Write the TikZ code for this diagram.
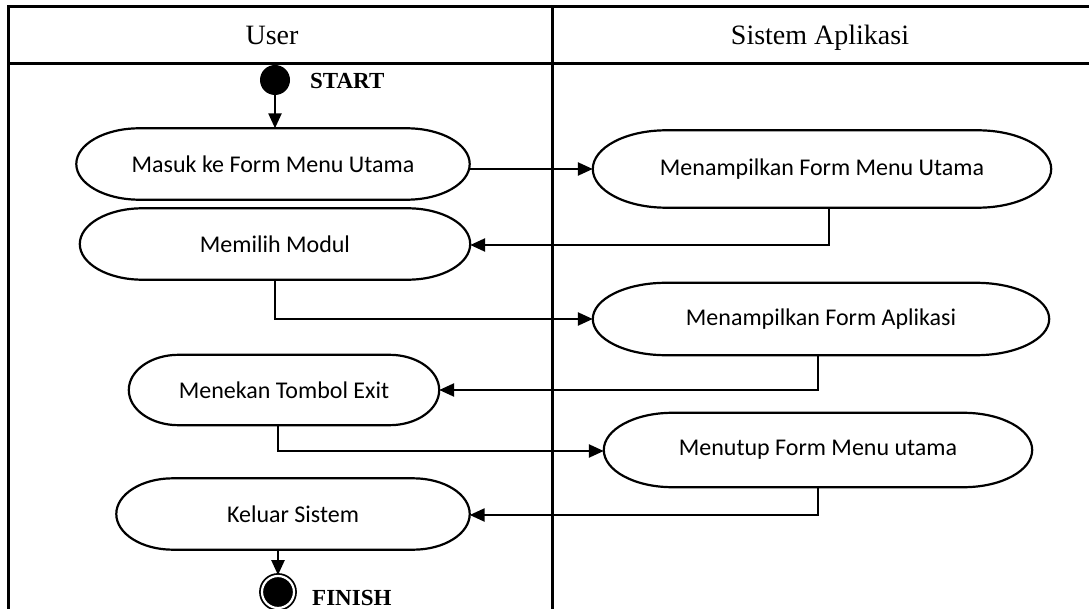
\documentclass[tikz,border=0pt]{standalone}
\usepackage{fontspec}
\setmainfont{Liberation Serif}
\newfontfamily\calibri{Carlito}
\usetikzlibrary{calc, arrows.meta}

\tikzset{
  act/.style={minimum height=71, inner sep=0, font=\calibri\fontsize{24}{28}\selectfont},
  flow/.style={line width=2.4, -{Triangle[length=15,width=13]}},
  lane/.style={line width=3},
  lanehead/.style={anchor=base, font=\fontsize{28}{32}\selectfont},
}

\begin{document}
\begin{tikzpicture}[x=1pt, y=1pt]
  \useasboundingbox (0,0) rectangle (1089,-609);

  % swimlanes
  \draw[lane] (1100,-7) -- (8,-7) -- (8,-620);
  \draw[lane] (8,-64) -- (1100,-64);
  \draw[lane] (552,-7) -- (552,-620);
  \node[lanehead] (user) at (272,-45) {User};
  \node[lanehead] (sistem) at (820,-45) {Sistem Aplikasi};

  % start / finish
  \node[circle, fill, minimum size=30, inner sep=0] (start) at (275,-80) {};
  \node[right, inner sep=0] (startlbl) at (310,-81) {\fontsize{23}{26}\selectfont\bfseries START};
  \node[circle, fill, draw, double=white, double distance=2.2, line width=1.8,
        minimum size=32, inner sep=0] (finish) at (278,-592) {};
  \node[right, inner sep=0] (finishlbl) at (312,-598) {\fontsize{23}{26}\selectfont\bfseries FINISH};

  % activities
  \node[act, minimum width=393] (masuk) at (273,-164) {Masuk ke Form Menu Utama};
  \node[act, minimum width=458, minimum height=77] (tampilmenu) at (822,-169) {Menampilkan Form Menu Utama};
  \node[act, minimum width=390] (pilih) at (275,-244) {Memilih Modul};
  \node[act, minimum width=456, minimum height=72] (tampilapp) at (821,-319) {Menampilkan Form Aplikasi};
  \node[act, minimum width=310, minimum height=70] (tekan) at (284,-390) {Menekan Tombol Exit};
  \node[act, minimum width=428, minimum height=74] (tutup) at (818,-450) {Menutup Form Menu utama};
  \node[act, minimum width=353] (keluar) at (293,-514) {Keluar Sistem};

  % terminator outlines
  \foreach \a in {masuk,tampilmenu,pilih,tampilapp,tekan,tutup,keluar}
    \draw[line width=2.2] let \p1=(\a.north west), \p2=(\a.south east),
        \n1={0.16*(\x2-\x1)}, \n2={(\y1-\y2)/2} in
      (\x1+\n1,\y1) -- (\x2-\n1,\y1)
      arc[start angle=90, end angle=-90, x radius=\n1, y radius=\n2]
      -- (\x1+\n1,\y2)
      arc[start angle=270, end angle=90, x radius=\n1, y radius=\n2] -- cycle;

  % flows
  \draw[flow] (start) -- (masuk.north -| start);
  \draw[flow] (masuk.east |- tampilmenu.west) -- (tampilmenu.west);
  \draw[flow] ([xshift=7]tampilmenu.south) |- ([yshift=-1]pilih.east);
  \draw[flow] (pilih.south) |- (tampilapp.west);
  \draw[flow] ([xshift=-3]tampilapp.south) |- (tekan.east);
  \draw[flow] ([xshift=-6]tekan.south) |- ([yshift=-1]tutup.west);
  \draw[flow] (tutup.south) |- ([yshift=-1]keluar.east);
  \draw[flow] ([xshift=-15]keluar.south) -- (finish);
\end{tikzpicture}
\end{document}
